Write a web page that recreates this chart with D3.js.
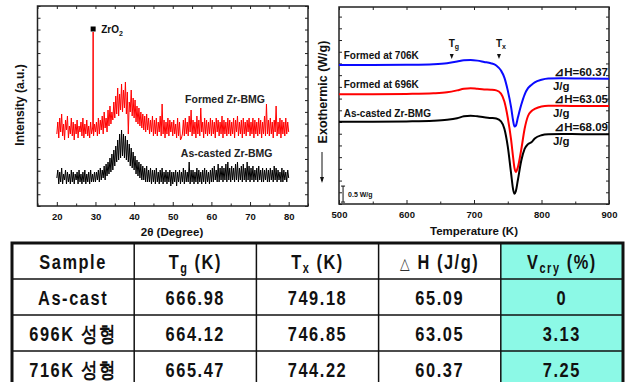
<!DOCTYPE html>
<html>
<head>
<meta charset="utf-8">
<script src="https://cdn.jsdelivr.net/npm/d3@7"></script>
<style>
  body { margin: 0; background: #fff; }
  svg text { font-family: "Liberation Sans", Arial, sans-serif; }
</style>
</head>
<body>
<svg id="chart" width="628" height="382"></svg>
<script>
// XRD intensities (a.u.), read every 0.25 deg from 20 to 80 deg
const xrdStart = 20, xrdStep = 0.25;
const formedXrd = [
  36, 42, 34, 44, 37, 46, 35, 41, 33, 43, 38, 45, 34, 40, 36, 44, 35, 42, 33, 41,
  36, 43, 34, 40, 37, 42, 35, 44, 34, 41, 36, 43, 35, 40, 34, 42, 36, 39, 35, 41,
  37, 42, 35, 44, 36, 43, 38, 45, 36, 47, 39, 44, 37, 48, 40, 50, 41, 47, 43, 52,
  44, 55, 46, 59, 45, 56, 48, 61, 47, 58, 49, 62, 46, 57, 36, 52, 47, 58, 45, 54,
  44, 53, 42, 50, 41, 49, 40, 47, 39, 46, 38, 45, 37, 46, 38, 44, 36, 43, 37, 45,
  35, 43, 36, 44, 35, 42, 37, 45, 35, 51, 36, 43, 34, 42, 36, 44, 35, 43, 37, 42,
  35, 43, 36, 41, 34, 44, 35, 42, 33, 34, 36, 43, 35, 44, 36, 42, 35, 45, 37, 48,
  35, 43, 36, 42, 34, 45, 36, 43, 35, 49, 37, 42, 34, 44, 36, 43, 35, 42, 36, 44,
  35, 43, 36, 42, 34, 44, 37, 43, 35, 42, 36, 45, 34, 43, 36, 42, 35, 44, 36, 43,
  35, 42, 36, 44, 34, 43, 37, 45, 35, 42, 36, 43, 34, 44, 36, 42, 35, 43, 37, 44,
  35, 42, 36, 44, 34, 43, 36, 42, 35, 44, 36, 43, 34, 42, 36, 45, 35, 51, 36, 43,
  35, 44, 36, 42, 34, 43, 37, 50, 35, 42, 36, 44, 34, 43, 36, 42, 35, 44, 36, 42,
  37
];
const castXrd = [
  14, 18, 11, 17, 12, 19, 11, 16, 13, 18, 11, 17, 12, 16, 11, 18, 12, 17, 11, 16,
  13, 17, 11, 18, 12, 16, 11, 17, 12, 18, 11, 16, 12, 17, 11, 18, 12, 16, 12, 17,
  12, 17, 13, 18, 12, 19, 13, 18, 14, 20, 13, 21, 15, 22, 16, 24, 17, 26, 18, 28,
  20, 30, 22, 33, 23, 36, 24, 38, 25, 36, 24, 35, 23, 33, 22, 31, 20, 29, 19, 27,
  18, 25, 16, 23, 15, 22, 14, 21, 13, 20, 13, 19, 12, 20, 12, 18, 12, 19, 11, 18,
  12, 18, 11, 19, 12, 17, 11, 18, 12, 19, 11, 17, 12, 18, 11, 17, 12, 18, 10, 17,
  11, 17, 12, 18, 10, 17, 12, 18, 11, 17, 12, 19, 11, 18, 12, 17, 12, 22, 11, 18,
  12, 18, 11, 17, 12, 19, 11, 18, 12, 17, 11, 18, 12, 19, 11, 18, 12, 17, 11, 18,
  12, 19, 12, 20, 13, 18, 12, 21, 12, 19, 13, 20, 12, 19, 13, 21, 12, 22, 13, 19,
  12, 20, 13, 19, 12, 21, 13, 22, 12, 19, 13, 20, 12, 21, 13, 19, 12, 22, 13, 20,
  12, 19, 13, 20, 12, 18, 13, 19, 12, 20, 13, 18, 12, 19, 12, 18, 13, 19, 12, 18,
  12, 19, 13, 18, 12, 20, 13, 19, 12, 18, 13, 17, 12, 19, 12, 18, 13, 17, 12, 18,
  14
];
// sharp ZrO2 reflection in the formed sample
const zro2Angle = [29.3, 29.4, 29.45];
const zro2Int = [40, 87, 40];
const xrdTicks = [20, 30, 40, 50, 60, 70, 80];

// DSC traces (W/g, offset)
const dscTemps = [500, 550, 600, 640, 660, 675, 685, 695, 705, 715, 725, 733, 740, 745, 750,
  755, 758, 760, 762, 765, 770, 775, 780, 785, 790, 800, 810, 830, 860, 900];
const dsc706 = [4.34, 4.34, 4.35, 4.37, 4.40, 4.45, 4.49, 4.50, 4.48, 4.44, 4.40, 4.33, 4.17, 3.95, 3.55,
  3.02, 2.60, 2.42, 2.45, 2.70, 3.10, 3.42, 3.62, 3.72, 3.80, 3.88, 3.92, 3.93, 3.92, 3.91];
const dsc696 = [3.43, 3.43, 3.44, 3.46, 3.49, 3.55, 3.60, 3.62, 3.60, 3.58, 3.57, 3.55, 3.45, 3.20, 2.70,
  2.00, 1.45, 1.12, 1.00, 1.15, 1.70, 2.35, 2.75, 2.90, 2.97, 3.05, 3.07, 3.07, 3.06, 3.06];
const dscCast = [2.57, 2.57, 2.58, 2.60, 2.63, 2.68, 2.74, 2.76, 2.74, 2.71, 2.69, 2.67, 2.58, 2.35, 1.80,
  0.95, 0.45, 0.32, 0.40, 0.75, 1.35, 1.72, 1.87, 1.93, 2.05, 2.15, 2.18, 2.19, 2.18, 2.18];
const dscNames = ['Formed at 706K', 'Formed at 696K', 'As-casted Zr-BMG'];
const dscColors = ['#0a0aff', '#ff0000', '#000000'];
const dHLabels = ['\u22BFH=60.37', '\u22BFH=63.05', '\u22BFH=68.09'];
const dscTicks = [500, 600, 700, 800, 900];
const tgMark = 667, txMark = 737;

// table
const headMain = ['Sample', 'T', 'T', '\u25B3H (J/g)', 'V'];
const headSub = ['', 'g', 'x', '', 'cry'];
const headRest = ['', ' (K)', ' (K)', '', ' (%)'];
const sampleNames = ['As-cast', '696K 성형', '716K 성형'];
const tgVals = ['666.98', '664.12', '665.47'];
const txVals = ['749.18', '746.85', '744.22'];
const dhVals = ['65.09', '63.05', '60.37'];
const vcryVals = ['0', '3.13', '7.25'];

const svg = d3.select('#chart');

// ---------- XRD panel ----------
const xX = d3.scaleLinear().domain([15, 85]).range([37.5, 308]);
const xY = d3.scaleLinear().domain([0, 100]).range([206, 6]);

function frameAxes(x, y, major, minor, yTicks, labelFmt) {
  const g = svg.append('g');
  const [x0, x1] = x.range();
  const [y0, y1] = y.range();
  g.append('g').attr('transform', `translate(0,${y0})`)
    .call(d3.axisBottom(x).tickValues(major).tickSizeInner(-4).tickSizeOuter(0).tickPadding(7.5).tickFormat(labelFmt));
  g.append('g').attr('transform', `translate(0,${y0})`)
    .call(d3.axisBottom(x).tickValues(minor).tickSizeInner(-2.5).tickSizeOuter(0).tickFormat(''));
  g.append('g').attr('transform', `translate(0,${y1})`)
    .call(d3.axisTop(x).tickValues(major.concat(minor)).tickSizeInner(-3).tickSizeOuter(0).tickFormat(''));
  g.append('g').attr('transform', `translate(${x0},0)`)
    .call(d3.axisLeft(y).tickValues(yTicks).tickSizeInner(-3).tickSizeOuter(0).tickFormat(''));
  g.append('g').attr('transform', `translate(${x1},0)`)
    .call(d3.axisRight(y).tickValues(yTicks).tickSizeInner(-3).tickSizeOuter(0).tickFormat(''));
  g.selectAll('.domain').remove();
  g.selectAll('.tick line').attr('stroke', '#222');
  g.selectAll('.tick text').attr('font-size', 9.5).attr('font-weight', 'bold')
    .attr('font-family', '"Liberation Sans", Arial, sans-serif').attr('fill', '#111');
  g.append('rect').attr('x', x0).attr('y', y1).attr('width', x1 - x0).attr('height', y0 - y1)
    .attr('fill', 'none').attr('stroke', '#222').attr('stroke-width', 1.5);
}

const xrdMinor = [15, 25, 35, 45, 55, 65, 75, 85];
frameAxes(xX, xY, xrdTicks, xrdMinor, d3.range(0, 100.01, 100 / 17), d3.format('d'));

const formedPts = formedXrd.map((v, i) => [xrdStart + i * xrdStep, v])
  .concat(zro2Angle.map((a, i) => [a, zro2Int[i]]))
  .sort((a, b) => a[0] - b[0]);
const castPts = castXrd.map((v, i) => [xrdStart + i * xrdStep, v]);
const xrdLine = d3.line().x(d => xX(d[0])).y(d => xY(d[1]));

svg.append('path').attr('d', xrdLine(formedPts)).attr('fill', 'none')
  .attr('stroke', '#ff0000').attr('stroke-width', 1);
svg.append('path').attr('d', xrdLine(castPts)).attr('fill', 'none')
  .attr('stroke', '#000').attr('stroke-width', 1);

// ZrO2 marker
svg.append('rect').attr('x', xX(29.4) - 2.5).attr('y', xY(88.5) - 2.5)
  .attr('width', 5).attr('height', 5).attr('fill', '#000');
const zl = svg.append('text').attr('x', xX(29.4) + 8).attr('y', xY(88.5) + 3.5)
  .attr('font-size', 10).attr('font-weight', 'bold').attr('fill', '#111').text('ZrO');
zl.append('tspan').attr('font-size', 7).attr('dy', 3).text('2');

svg.append('text').attr('x', xX(53.2)).attr('y', xY(53.5) + 4)
  .attr('font-size', 10.5).attr('font-weight', 'bold').attr('fill', '#222').text('Formed Zr-BMG');
svg.append('text').attr('x', xX(52.1)).attr('y', xY(26.5) + 4)
  .attr('font-size', 10.5).attr('font-weight', 'bold').attr('fill', '#222').text('As-casted Zr-BMG');

svg.append('text').attr('x', 172).attr('y', 236).attr('text-anchor', 'middle')
  .attr('font-size', 11.5).attr('font-weight', 'bold').attr('fill', '#111').text('2\u03B8 (Degree)');
svg.append('text').attr('transform', 'translate(24,105) rotate(-90)').attr('text-anchor', 'middle')
  .attr('font-size', 12).attr('font-weight', 'bold').attr('fill', '#111').text('Intensity (a.u.)');

// ---------- DSC panel ----------
const dX = d3.scaleLinear().domain([500, 900]).range([339, 609]);
const dY = d3.scaleLinear().domain([0, 6.156]).range([204, 7]);

frameAxes(dX, dY, dscTicks, [550, 650, 750, 850], d3.range(0, 6.16, 0.366), d3.format('d'));

const dscLine = d3.line().curve(d3.curveMonotoneX).x((d, i) => dX(dscTemps[i])).y(d => dY(d));
[dsc706, dsc696, dscCast].forEach((s, k) => {
  svg.append('path').attr('d', dscLine(s)).attr('fill', 'none')
    .attr('stroke', dscColors[k]).attr('stroke-width', 2);
});

const nameY = [4.625, 3.72, 2.84];
svg.selectAll('.dscname').data(dscNames).enter().append('text')
  .attr('x', dX(507)).attr('y', (d, i) => dY(nameY[i]) + 3.5)
  .attr('font-size', 10).attr('font-weight', 'bold').attr('fill', '#111').text(d => d);

const dhY = [4.125, 3.28, 2.41];
svg.selectAll('.dh').data(dHLabels).enter().append('text')
  .attr('x', 608).attr('y', (d, i) => dY(dhY[i]) + 4).attr('text-anchor', 'end')
  .attr('font-size', 11.5).attr('font-weight', 'bold').attr('fill', '#111').text(d => d);
svg.selectAll('.jg').data(dHLabels).enter().append('text')
  .attr('x', dX(817)).attr('y', (d, i) => dY(dhY[i]) + 18)
  .attr('font-size', 11.5).attr('font-weight', 'bold').attr('fill', '#111').text('J/g');

// Tg / Tx markers
[[tgMark, 'g'], [txMark, 'x']].forEach(([t, s]) => {
  const cx = dX(t);
  svg.append('path').attr('d', `M${cx - 2},${54} L${cx + 2},${54} L${cx},${59} Z`).attr('fill', '#111');
  const tt = svg.append('text').attr('x', cx - 3).attr('y', 47)
    .attr('font-size', 10).attr('font-weight', 'bold').attr('fill', '#111').text('T');
  tt.append('tspan').attr('font-size', 7).attr('dy', 2).text(s);
});

// 0.5 W/g scale bar
const sbx = dX(506);
svg.append('path')
  .attr('d', `M${sbx},${dY(0.06)}V${dY(0.56)}M${sbx - 2},${dY(0.06)}H${sbx + 2}M${sbx - 2},${dY(0.56)}H${sbx + 2}`)
  .attr('stroke', '#111').attr('stroke-width', 1);
svg.append('text').attr('x', sbx + 5).attr('y', dY(0.31) + 2.5)
  .attr('font-size', 7).attr('font-weight', 'bold').attr('fill', '#111').text('0.5 W/g');

svg.append('text').attr('x', 474).attr('y', 235).attr('text-anchor', 'middle')
  .attr('font-size', 11.5).attr('font-weight', 'bold').attr('fill', '#111').text('Temperature (K)');
svg.append('text').attr('transform', 'translate(327,92) rotate(-90)').attr('text-anchor', 'middle')
  .attr('font-size', 12.5).attr('font-weight', 'bold').attr('fill', '#111').text('Exothermic (W/g)');
svg.append('path').attr('d', 'M322,152V181').attr('stroke', '#111').attr('stroke-width', 1);
svg.append('path').attr('d', 'M320,177L322,183L324,177Z').attr('fill', '#111');

// ---------- table ----------
const colX = d3.scaleBand().domain(d3.range(5)).range([12, 623]);
const rowY = d3.scaleBand().domain(d3.range(4)).range([243, 387]);
const tbl = svg.append('g');
const tableFont = '"Liberation Sans", Arial, "Noto Sans CJK KR", sans-serif';

tbl.append('rect').attr('x', colX(4)).attr('y', rowY(0))
  .attr('width', colX.bandwidth()).attr('height', rowY.bandwidth() * 4).attr('fill', '#8cf9e6');
d3.range(1, 5).forEach(c => tbl.append('line').attr('x1', colX(c)).attr('x2', colX(c))
  .attr('y1', 243).attr('y2', 387).attr('stroke', '#111').attr('stroke-width', 1.5));
d3.range(1, 4).forEach(r => tbl.append('line').attr('x1', 12).attr('x2', 623)
  .attr('y1', rowY(r)).attr('y2', rowY(r)).attr('stroke', '#111').attr('stroke-width', 1.5));
tbl.append('rect').attr('x', 12).attr('y', 243).attr('width', 611).attr('height', 144)
  .attr('fill', 'none').attr('stroke', '#111').attr('stroke-width', 3);

// condensed bold look: squeeze the text horizontally
function cellText(c, r) {
  const cx = colX(c) + colX.bandwidth() / 2;
  const cy = rowY(r) + rowY.bandwidth() / 2 + 7.5;
  return tbl.append('text').attr('transform', `translate(${cx},${cy}) scale(0.78,1)`)
    .attr('text-anchor', 'middle').attr('font-family', tableFont).attr('font-weight', 'bold')
    .attr('font-size', 21).attr('letter-spacing', 2).attr('fill', '#111');
}
headMain.forEach((h, c) => {
  const t = cellText(c, 0);
  if (c === 3) {
    t.append('tspan').attr('font-weight', 'normal').attr('font-size', 16).attr('fill', '#333').text('\u25B3');
    t.append('tspan').text(' H (J/g)');
  } else {
    t.append('tspan').text(h);
    if (headSub[c]) {
      t.append('tspan').attr('font-size', 14).attr('dy', 4).text(headSub[c]);
      t.append('tspan').attr('dy', -4).text(headRest[c]);
    }
  }
});
[sampleNames, tgVals, txVals, dhVals, vcryVals].forEach((col, c) => {
  col.forEach((v, r) => cellText(c, r + 1).text(v));
});
</script>
</body>
</html>
